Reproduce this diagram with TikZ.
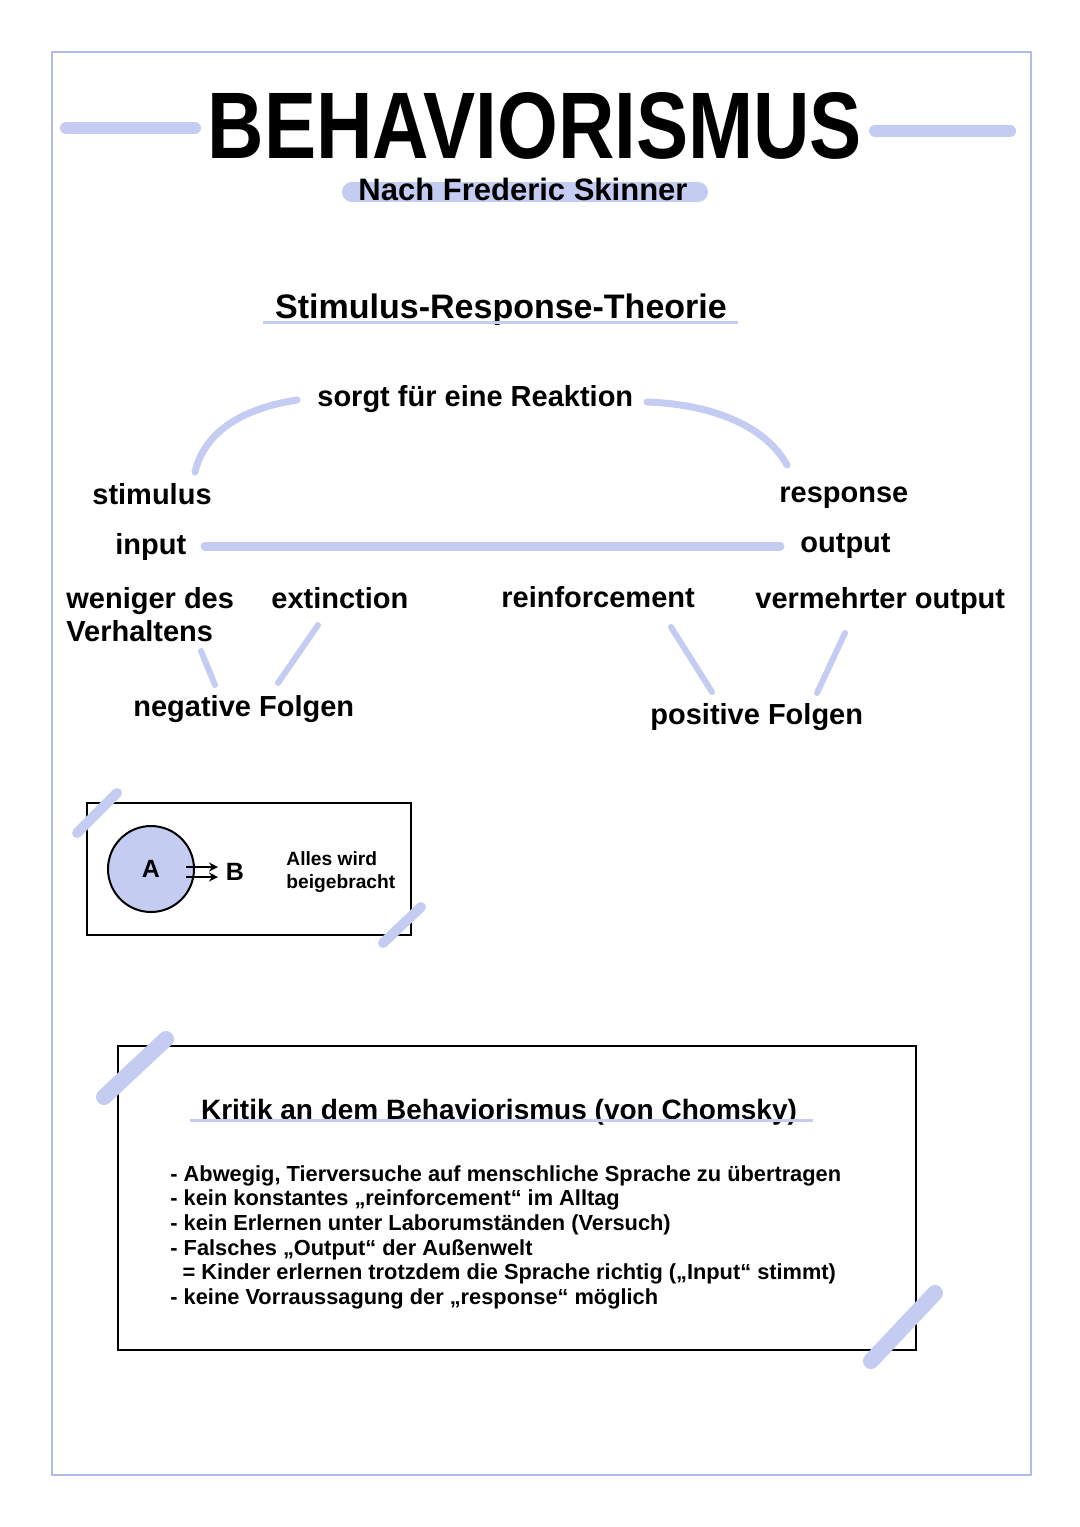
\documentclass[tikz,border=0pt]{standalone}
\usepackage{fontspec}
\setmainfont{Liberation Sans}
\usetikzlibrary{arrows.meta}
\definecolor{hl}{RGB}{196,204,242}
\definecolor{framec}{RGB}{178,188,232}
\begin{document}
\begin{tikzpicture}[x=0.5pt,y=-0.5pt,
  lbl/.style={font=\bfseries\fontsize{14.5}{17}\selectfont, inner sep=0pt, anchor=base west},
  small/.style={font=\bfseries\fontsize{9.6}{11.5}\selectfont, inner sep=0pt, align=left},
  crit/.style={font=\bfseries\fontsize{10.9}{12.3}\selectfont, inner sep=0pt, align=left, anchor=north west},
  hlline/.style={draw=hl, line cap=round, line width=#1},
  hlline/.default=3pt,
  box/.style={draw=black, line width=1pt}]
\useasboundingbox (0,0) rectangle (1080,1527);
% frame
\draw[framec, line width=1pt] (52,52) rectangle (1031,1475);
% title
\node[inner sep=0pt] (title) at (535,126) {\resizebox{327pt}{33pt}{\bfseries BEHAVIORISMUS}};
\coordinate (tl1) at (66,128); \coordinate (tl2) at (195,128);
\coordinate (tr1) at (875,131); \coordinate (tr2) at (1010,131);
\draw[hlline=6pt] (tl1) -- (tl2);
\draw[hlline=6pt] (tr1) -- (tr2);
% subtitle with pill
\coordinate (p1) at (352,192); \coordinate (p2) at (698,192);
\draw[hlline=10pt] (p1) -- (p2);
\node[inner sep=0pt, font=\bfseries\fontsize{15.5}{18}\selectfont] (sub) at (523,189) {Nach Frederic Skinner};
% theory heading
\node[inner sep=0pt, font=\bfseries\fontsize{17}{20}\selectfont] (srt) at (501,310) {Stimulus-Response-Theorie};
\coordinate (u1) at (263,322); \coordinate (u2) at (738,322);
\draw[draw=hl, line width=1.5pt] (u1) -- (u2);
% labels
\node[lbl] (reak) at (317,406) {sorgt für eine Reaktion};
\node[lbl] (stim) at (92,504) {stimulus};
\node[lbl] (resp) at (779,502) {response};
\node[lbl] (inp) at (115,554) {input};
\node[lbl] (outp) at (800,552) {output};
\node[lbl] (wen) at (66,608) {weniger des};
\node[lbl] (verh) at (66,641) {Verhaltens};
\node[lbl] (ext) at (271,608) {extinction};
\node[lbl] (rein) at (501,607) {reinforcement};
\node[lbl] (verm) at (755,608) {vermehrter output};
\node[lbl] (neg) at (133,716) {negative Folgen};
\node[lbl] (pos) at (650,724) {positive Folgen};
% connectors
\coordinate (a1) at (195,472); \coordinate (a2) at (297,400);
\draw[hlline=3.5pt] (a1) .. controls (205,430) and (245,408) .. (a2);
\coordinate (b1) at (647,402); \coordinate (b2) at (787,465);
\draw[hlline=3.5pt] (b1) .. controls (710,404) and (765,425) .. (b2);
\coordinate (i1) at (205,546); \coordinate (i2) at (780,546);
\draw[hlline=4.5pt] (i1) -- (i2);
\coordinate (n1) at (201,651); \coordinate (n2) at (215,685);
\draw[hlline=3pt] (n1) -- (n2);
\coordinate (n3) at (318,625); \coordinate (n4) at (278,683);
\draw[hlline=3pt] (n3) -- (n4);
\coordinate (q1) at (671,627); \coordinate (q2) at (712,692);
\draw[hlline=3pt] (q1) -- (q2);
\coordinate (q3) at (845,633); \coordinate (q4) at (817,693);
\draw[hlline=3pt] (q3) -- (q4);
% box 1
\node[box, minimum width=162pt, minimum height=66pt, inner sep=0pt] (box1) at (249,869) {};
\coordinate (d1) at (77,833); \coordinate (d2) at (117,793);
\draw[hlline=5pt] (d1) -- (d2);
\node[circle, draw=black, fill=hl, line width=1pt, minimum size=43pt, inner sep=0pt,
      font=\bfseries\fontsize{12.5}{14}\selectfont] (A) at (151,869) {A};
\node[inner sep=0pt, font=\bfseries\fontsize{12.5}{14}\selectfont] (B) at (235,872) {B};
\draw[line width=0.9pt, -{Stealth[length=4.5pt,width=4.5pt]}] (186,867) -- (218,867);
\draw[line width=0.9pt, -{Stealth[length=4.5pt,width=4.5pt]}] (186,877) -- (218,877);
\coordinate (c1) at (156,905); \coordinate (c2) at (178,881);
\draw[hlline=4pt] (c1) .. controls (168,900) and (176,892) .. (c2);
\node[small, anchor=west] (alles) at (286,872) {Alles wird\\beigebracht};
\coordinate (d3) at (383,943); \coordinate (d4) at (421,907);
\draw[hlline=5pt] (d3) -- (d4);
% box 2
\node[box, minimum width=399pt, minimum height=152pt, inner sep=0pt] (box2) at (517,1198) {};
\coordinate (e1) at (104,1097); \coordinate (e2) at (166,1039);
\draw[hlline=8pt] (e1) -- (e2);
\coordinate (e3) at (871,1361); \coordinate (e4) at (935,1293);
\draw[hlline=8pt] (e3) -- (e4);
\node[inner sep=0pt, font=\bfseries\fontsize{14}{17}\selectfont] (krit) at (499,1112) {Kritik an dem Behaviorismus (von Chomsky)};
\coordinate (k1) at (190,1120); \coordinate (k2) at (813,1120);
\draw[draw=hl, line width=1.5pt] (k1) -- (k2);
\node[crit] (list) at (170,1165) {- Abwegig, Tierversuche auf menschliche Sprache zu übertragen\\
- kein konstantes „reinforcement“ im Alltag\\
- kein Erlernen unter Laborumständen (Versuch)\\
- Falsches „Output“ der Außenwelt\\
\ \ = Kinder erlernen trotzdem die Sprache richtig („Input“ stimmt)\\
- keine Vorraussagung der „response“ möglich};
\end{tikzpicture}
\end{document}
